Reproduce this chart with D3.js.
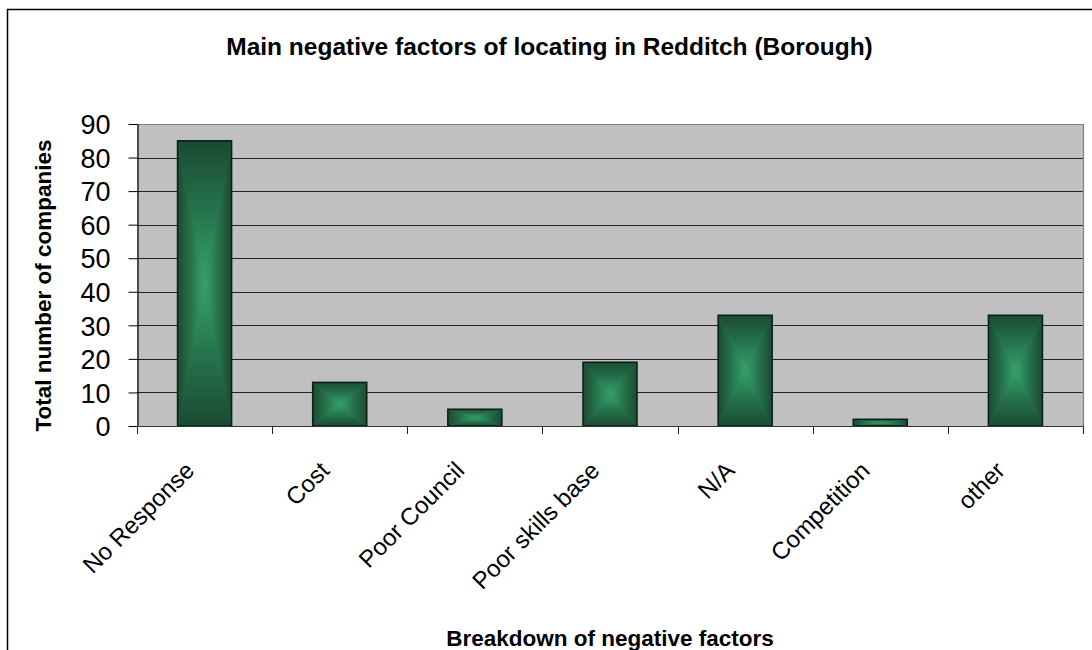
<!DOCTYPE html>
<html>
<head>
<meta charset="utf-8">
<script src="https://cdn.jsdelivr.net/npm/d3@7/dist/d3.min.js"></script>
<style>
  html, body { margin: 0; padding: 0; background: #fff; }
  svg { display: block; font-family: "Liberation Sans", Arial, sans-serif; }
</style>
</head>
<body>
<svg id="chart" width="1092" height="650"></svg>
<script>
const categories = ["No Response", "Cost", "Poor Council", "Poor skills base", "N/A", "Competition", "other"];
const values = [85, 13, 5, 19, 33, 2, 33];
const yTicks = [0, 10, 20, 30, 40, 50, 60, 70, 80, 90];
const titleText = "Main negative factors of locating in Redditch (Borough)";
const xTitle = "Breakdown of negative factors";
const yTitle = "Total number of companies";

const svg = d3.select("#chart");
const W = 1092, H = 650;
const plot = { left: 137, right: 1083, top: 124, bottom: 426 };

// outer chart border (right/bottom cropped off in the reference)
svg.append("rect")
  .attr("x", 7.5).attr("y", 9.5)
  .attr("width", W + 20).attr("height", H + 20)
  .attr("fill", "#fff").attr("stroke", "#000").attr("stroke-width", 1.5);

const x = d3.scaleBand().domain(categories)
  .range([plot.left, plot.right]).paddingInner(0.6).paddingOuter(0.3);
const y = d3.scaleLinear().domain([0, 90]).range([plot.bottom, plot.top]);

// gradients
const defs = svg.append("defs");
const dark = "#1a4a33", mid = "#27784f", light = "#37a26c";
function grad(id, x1, y1, x2, y2) {
  const g = defs.append("linearGradient").attr("id", id)
    .attr("x1", x1).attr("y1", y1).attr("x2", x2).attr("y2", y2);
  g.append("stop").attr("offset", 0).attr("stop-color", dark);
  g.append("stop").attr("offset", 0.55).attr("stop-color", mid);
  g.append("stop").attr("offset", 1).attr("stop-color", light);
}
grad("gL", 0, 0, 1, 0);
grad("gR", 1, 0, 0, 0);
grad("gT", 0, 0, 0, 1);
grad("gB", 0, 1, 0, 0);

// plot background
svg.append("rect")
  .attr("x", plot.left).attr("y", plot.top)
  .attr("width", plot.right - plot.left).attr("height", plot.bottom - plot.top)
  .attr("fill", "#c0c0c0");

// gridlines
svg.append("g").selectAll("line").data(yTicks.filter(d => d > 0)).join("line")
  .attr("x1", plot.left).attr("x2", plot.right)
  .attr("y1", d => Math.round(y(d)) + 0.5).attr("y2", d => Math.round(y(d)) + 0.5)
  .attr("stroke", d => d === 90 ? "#808080" : "#222").attr("stroke-width", 1);

// right border of plot
svg.append("line")
  .attr("x1", plot.right + 0.5).attr("x2", plot.right + 0.5)
  .attr("y1", plot.top).attr("y2", plot.bottom + 8)
  .attr("stroke", "#808080").attr("stroke-width", 1.2);

// bars
const bars = svg.append("g");
categories.forEach((c, i) => {
  const x0 = x(c), x1 = x0 + x.bandwidth();
  const y0 = y(values[i]), y1 = y(0);
  const cx = (x0 + x1) / 2, cy = (y0 + y1) / 2;
  const g = bars.append("g");
  g.append("rect").attr("x", x0).attr("y", y0).attr("width", x1 - x0).attr("height", y1 - y0).attr("fill", mid);
  g.append("path").attr("d", `M${x0},${y0}L${cx},${cy}L${x0},${y1}Z`).attr("fill", "url(#gL)");
  g.append("path").attr("d", `M${x1},${y0}L${cx},${cy}L${x1},${y1}Z`).attr("fill", "url(#gR)");
  g.append("path").attr("d", `M${x0},${y0}L${cx},${cy}L${x1},${y0}Z`).attr("fill", "url(#gT)");
  g.append("path").attr("d", `M${x0},${y1}L${cx},${cy}L${x1},${y1}Z`).attr("fill", "url(#gB)");
  g.append("rect").attr("x", x0).attr("y", y0).attr("width", x1 - x0).attr("height", y1 - y0)
    .attr("fill", "none").attr("stroke", "#0a1f14").attr("stroke-width", 1.5);
});

// y axis
const yAxis = svg.append("g").attr("transform", `translate(${plot.left + 0.5},0)`)
  .call(d3.axisLeft(y).tickValues(yTicks).tickSize(9).tickPadding(18).tickSizeOuter(0));
yAxis.select(".domain").attr("stroke", "#000").attr("stroke-width", 1.2);
yAxis.selectAll(".tick line").attr("stroke", "#000");
yAxis.selectAll(".tick text")
  .attr("font-family", "'Liberation Sans', Arial, sans-serif")
  .attr("font-size", 27).attr("fill", "#000").attr("dy", "0.36em");

// x axis baseline and ticks at category boundaries
const bounds = d3.range(categories.length + 1).map(i => plot.left + i * x.step());
svg.append("line")
  .attr("x1", plot.left).attr("x2", plot.right)
  .attr("y1", plot.bottom + 0.5).attr("y2", plot.bottom + 0.5)
  .attr("stroke", "#333").attr("stroke-width", 1.2);
svg.append("g").selectAll("line").data(bounds).join("line")
  .attr("x1", d => Math.round(d) + 0.5).attr("x2", d => Math.round(d) + 0.5)
  .attr("y1", plot.bottom).attr("y2", plot.bottom + 8)
  .attr("stroke", "#222").attr("stroke-width", 1);

// x labels
svg.append("g").selectAll("text").data(categories).join("text")
  .attr("transform", c => `translate(${x(c) + x.bandwidth() / 2 - 9},${plot.bottom + 46}) rotate(-45)`)
  .attr("text-anchor", "end")
  .attr("font-size", 24).attr("fill", "#000")
  .text(c => c);

// titles
svg.append("text")
  .attr("x", 549.5).attr("y", 55)
  .attr("text-anchor", "middle").attr("font-weight", "bold").attr("font-size", 24.5)
  .text(titleText);

svg.append("text")
  .attr("x", (plot.left + plot.right) / 2).attr("y", 646)
  .attr("text-anchor", "middle").attr("font-weight", "bold").attr("font-size", 22.5)
  .text(xTitle);

svg.append("text")
  .attr("transform", `translate(51,${285.5}) rotate(-90)`)
  .attr("text-anchor", "middle").attr("font-weight", "bold").attr("font-size", 22.5)
  .text(yTitle);
</script>
</body>
</html>
